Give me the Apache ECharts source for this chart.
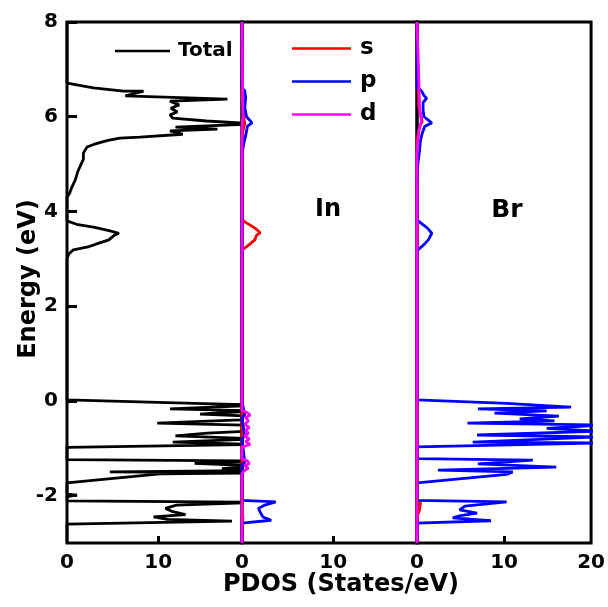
<!DOCTYPE html>
<html>
<head>
<meta charset="utf-8">
<script src="https://cdn.jsdelivr.net/npm/echarts@6/dist/echarts.min.js"></script>
<style>html,body{margin:0;padding:0;background:#fff}#c{width:608px;height:607px}</style>
</head>
<body>
<div id="c"></div>
<script>
// ---- tick labels ----
const energyTicks = [-2, 0, 2, 4, 6, 8];
const dosTicksA = [0, 10];
const dosTicksB = [0, 10, 20];
const dosMinorTick = [10];

// ---- Total DOS (panel 1) ----
const totalE = [8.0, 6.71, 6.61, 6.54, 6.54, 6.44, 6.37, 6.33, 6.25, 6.18, 6.10, 6.04, 5.97, 5.91, 5.85, 5.78, 5.74, 5.70, 5.63, 5.57, 5.55, 5.50, 5.42, 5.36, 5.30, 5.23, 5.10, 5.02, 4.85, 4.66, 4.50, 4.39, 4.30,
  3.80, 3.72, 3.67, 3.60, 3.54, 3.50, 3.46, 3.40, 3.33, 3.25, 3.19, 3.10, 3.00,
  0.02, -0.05, -0.09, -0.13, -0.17, -0.21, -0.25, -0.28, -0.33, -0.40, -0.47, -0.52, -0.58, -0.63, -0.68, -0.74, -0.80, -0.87, -0.92, -0.98,
  -1.24, -1.27, -1.32, -1.37, -1.43, -1.47, -1.50, -1.52, -1.54, -1.73,
  -1.97, -1.99, -2.02, -2.11, -2.14, -2.20, -2.27, -2.33, -2.40, -2.45, -2.50, -2.54, -2.60, -3.0];
const totalD = [0, 0, 2.9, 6.2, 8.4, 6.4, 17.6, 11.3, 12.3, 11.4, 12.1, 11.3, 11.6, 15.3, 21, 11.9, 16.5, 11.3, 12.7, 8.0, 5.8, 4.5, 3.0, 2.2, 2.0, 1.8, 1.8, 1.6, 1.2, 0.9, 0.5, 0.3, 0,
  0, 1.2, 2.9, 4.5, 5.7, 5.2, 5.1, 4.6, 3.5, 2.3, 0.7, 0.2, 0,
  0, 14, 21, 16, 11.3, 21, 17, 14.6, 21, 19, 9.9, 21, 20, 21, 15.4, 11.9, 21, 11.6, 21, 0,
  0, 21, 14, 21, 17, 21, 4.7, 21, 10.2, 0,
  0, 1.1, 0, 0, 21, 12, 10.8, 11.5, 13, 9.5, 11, 18.1, 0, 0];

// ---- In (panel 2) ----
const inSE = [8.0, 6.5, 6.0, 5.85, 5.7, 5.0, 3.85, 3.78, 3.70, 3.62, 3.55, 3.50, 3.45, 3.40, 3.30, 3.20, 3.10, 0.0, -2.10, -2.13, -2.5, -2.6, -3.0];
const inSD = [0, 0, 0.2, 0.3, 0.1, 0, 0, 0.3, 1.0, 1.6, 2.0, 1.6, 1.5, 1.4, 0.8, 0.1, 0, 0, 0, 0.1, 0.1, 0, 0];
const inPE = [8.0, 6.6, 6.55, 6.4, 6.2, 6.0, 5.87, 5.8, 5.6, 5.44, 5.2, 0.0, -0.3, -0.35, -0.75, -0.8, -1.3, -1.35, -2.10, -2.13, -2.20, -2.27, -2.35, -2.45, -2.52, -2.58, -3.0];
const inPD = [0, 0, 0.3, 0.4, 0.3, 0.5, 1.1, 0.6, 0.4, 0.2, 0, 0, 0.3, 0, 0.3, 0, 0.3, 0, 0, 3.7, 2.5, 1.8, 2.0, 2.3, 3.2, 0, 0];
const inDE = [8.0, 6.0, 5.8, 0.0, -0.2, -0.25, -0.30, -0.35, -0.42, -0.50, -0.56, -0.62, -0.68, -0.74, -0.80, -0.86, -0.92, -0.97, -1.22, -1.27, -1.32, -1.37, -1.42, -1.48, -1.55, -3.0];
const inDD = [0, 0.1, 0, 0, 0, 0.6, 0.9, 0.4, 0.7, 0.3, 0.8, 0.4, 0.7, 0.3, 0.8, 0.4, 0.9, 0, 0, 0.6, 0.8, 0.3, 0.7, 0.2, 0, 0];

// ---- Br (panel 3) ----
const brSE = [8.0, 6.2, 5.9, 5.8, 5.5, -2.10, -2.13, -2.3, -2.4, -2.5, -3.0];
const brSD = [0, 0.2, 0.6, 0.3, 0, 0, 0.4, 0.3, 0.1, 0, 0];
const brPE = [8.0, 6.62, 6.55, 6.45, 6.39, 6.30, 6.14, 6.0, 5.87, 5.80, 5.65, 5.5, 5.3, 5.0, 4.6,
  3.82, 3.75, 3.65, 3.54, 3.47, 3.40, 3.30, 3.19, 3.10,
  0.02, -0.05, -0.13, -0.17, -0.21, -0.26, -0.32, -0.38, -0.42, -0.47, -0.51, -0.58, -0.64, -0.72, -0.76, -0.87, -0.89, -0.97,
  -1.22, -1.25, -1.33, -1.40, -1.46, -1.50, -1.55, -1.73,
  -2.10, -2.13, -2.22, -2.30, -2.37, -2.42, -2.47, -2.53, -2.58, -3.0];
const brPD = [0, 0, 0.5, 0.8, 1.1, 0.7, 0.7, 0.8, 1.7, 0.9, 0.6, 0.4, 0.3, 0.1, 0,
  0, 0.5, 1.2, 1.7, 1.5, 1.3, 0.8, 0.1, 0,
  0, 10.3, 17.7, 7.0, 14.9, 8.9, 16.3, 11.8, 15.8, 5.8, 21, 14.9, 21, 6.9, 21, 6.4, 21, 0,
  0, 13.3, 7, 16, 2.4, 11, 10.3, 0,
  0, 10.3, 5.5, 4.9, 6.9, 5, 4.1, 8.5, 0, 0];
const brDE = [8.0, 6.2, 5.9, 5.7, 5.2, -3.0];
const brDD = [0, 0.3, 0.5, 0.2, 0, 0];

const zip = (d, e) => d.map((v, i) => [v, e[i]]);

const FONT = 'DejaVu Sans';
const grids = [
  {left: 67, top: 22, width: 175, height: 521},
  {left: 242, top: 22, width: 175, height: 521},
  {left: 417, top: 22, width: 175, height: 521}
].map(g => Object.assign(g, {show: true, borderColor: '#000', borderWidth: 3, backgroundColor: 'transparent'}));

function xAxis(idx, max, labels) {
  return {
    type: 'value', gridIndex: idx, min: 0, max: max,
    axisLine: {show: false, onZero: false},
    splitLine: {show: false},
    axisTick: {show: true, inside: true, length: 7, customValues: dosMinorTick, lineStyle: {color: '#000', width: 3}},
    axisLabel: {customValues: labels, color: '#000', fontFamily: FONT, fontWeight: 'bold', fontSize: 20, margin: 10}
  };
}
function yAxis(idx, showIt) {
  return {
    type: 'value', gridIndex: idx, min: -3, max: 8, show: showIt,
    axisLine: {show: false, onZero: false},
    splitLine: {show: false},
    axisTick: {show: true, inside: true, length: 10, customValues: energyTicks, lineStyle: {color: '#000', width: 3}},
    axisLabel: {customValues: energyTicks, color: '#000', fontFamily: FONT, fontWeight: 'bold', fontSize: 20, margin: 9,
      formatter: v => String(v)}
  };
}
function line(name, xi, d, e, color, w) {
  return {type: 'line', name: name, xAxisIndex: xi, yAxisIndex: xi, data: zip(d, e), symbol: 'none', clip: true,
    lineStyle: {color: color, width: w || 2.8}, itemStyle: {color: color}, animation: false};
}

const bold = (s) => 'bold ' + s + 'px "DejaVu Sans"';

const chart = echarts.init(document.getElementById('c'), null, {renderer: 'canvas'});
chart.setOption({
  animation: false,
  backgroundColor: '#fff',
  grid: grids,
  xAxis: [xAxis(0, 19.2, dosTicksA), xAxis(1, 19.2, dosTicksA), xAxis(2, 20, dosTicksB)],
  yAxis: [yAxis(0, true), yAxis(1, false), yAxis(2, false)],
  legend: [
    {data: ['Total'], left: 115, top: 40, padding: 0, icon: 'rect', itemWidth: 55, itemHeight: 2.5,
      textStyle: {color: '#000', fontFamily: FONT, fontWeight: 'bold', fontSize: 20, lineHeight: 22, padding: [0, 0, 0, 3]}, selectedMode: false},
    {data: ['s', 'p', 'd'], orient: 'vertical', left: 292, top: 37, padding: 0, icon: 'rect', itemWidth: 59, itemHeight: 2.5, itemGap: 10,
      textStyle: {color: '#000', fontFamily: FONT, fontWeight: 'bold', fontSize: 23, lineHeight: 23, padding: [0, 0, 0, 4]}, selectedMode: false}
  ],
  graphic: [
    {type: 'text', x: 328, y: 210, style: {text: 'In', x: 0, y: 0, align: 'center', verticalAlign: 'middle', fill: '#000', font: bold(24)}},
    {type: 'text', x: 507, y: 210, style: {text: 'Br', x: 0, y: 0, align: 'center', verticalAlign: 'middle', fill: '#000', font: bold(25)}},
    {type: 'text', x: 341, y: 585, style: {text: 'PDOS (States/eV)', x: 0, y: 0, align: 'center', verticalAlign: 'middle', fill: '#000', font: bold(24)}},
    {type: 'text', x: 29, y: 279, rotation: Math.PI / 2, style: {text: 'Energy (eV)', x: 0, y: 0, align: 'center', verticalAlign: 'middle', fill: '#000', font: bold(24)}}
  ],
  series: [
    line('Total', 0, totalD, totalE, '#000000'),
    line('s', 1, inSD, inSE, '#ff0000'),
    line('p', 1, inPD, inPE, '#0000ff'),
    line('d', 1, inDD, inDE, '#ff00ff'),
    line('s', 2, brSD, brSE, '#ff0000'),
    line('p', 2, brPD, brPE, '#0000ff'),
    line('d', 2, brDD, brDE, '#ff00ff')
  ]
});
</script>
</body>
</html>
